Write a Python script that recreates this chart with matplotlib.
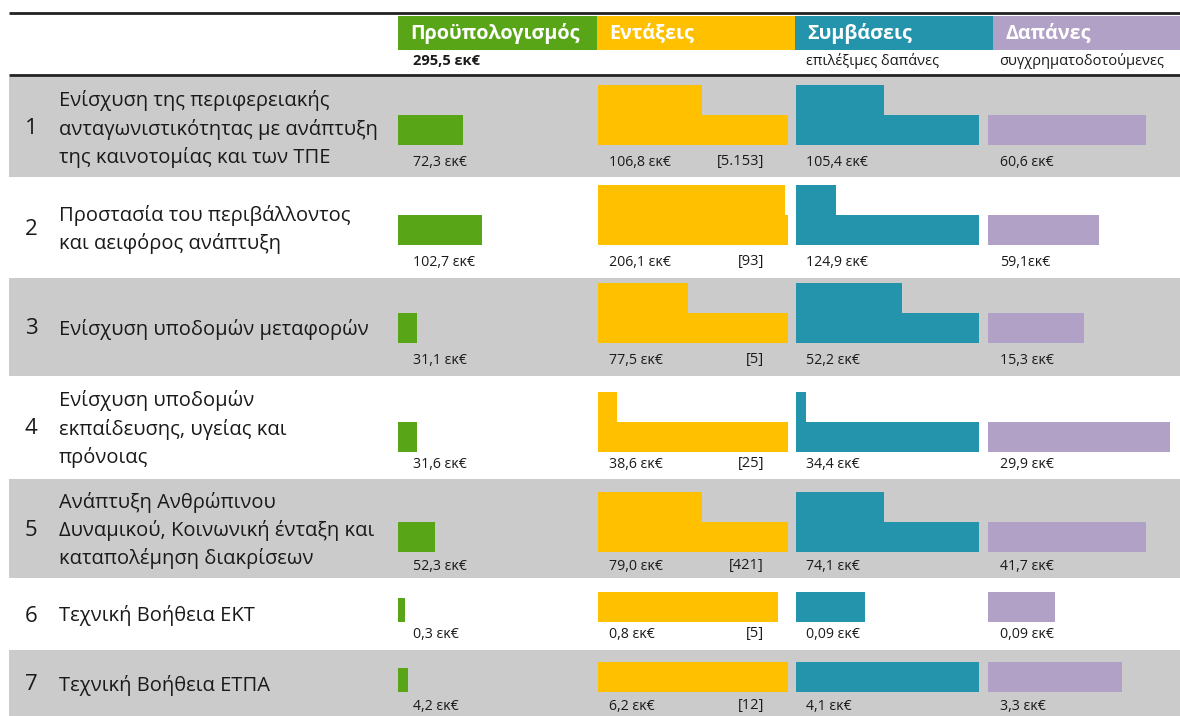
import matplotlib.pyplot as plt
from matplotlib.patches import Rectangle

plt.rcParams['font.family'] = ['Open Sans', 'DejaVu Sans']

# --- data ---
row_no = ['1', '2', '3', '4', '5', '6', '7']
axes_labels = [
    'Ενίσχυση της περιφερειακής\nανταγωνιστικότητας με ανάπτυξη\nτης καινοτομίας και των ΤΠΕ',
    'Προστασία του περιβάλλοντος\nκαι αειφόρος ανάπτυξη',
    'Ενίσχυση υποδομών μεταφορών',
    'Ενίσχυση υποδομών\nεκπαίδευσης, υγείας και\nπρόνοιας',
    'Ανάπτυξη Ανθρώπινου\nΔυναμικού, Κοινωνική ένταξη και\nκαταπολέμηση διακρίσεων',
    'Τεχνική Βοήθεια ΕΚΤ',
    'Τεχνική Βοήθεια ΕΤΠΑ',
]
headers = ['Προϋπολογισμός', 'Εντάξεις', 'Συμβάσεις', 'Δαπάνες']
subheaders = ['295,5 εκ€', '', 'επιλέξιμες δαπάνες', 'συγχρηματοδοτούμενες']

budget_txt = ['72,3 εκ€', '102,7 εκ€', '31,1 εκ€', '31,6 εκ€', '52,3 εκ€', '0,3 εκ€', '4,2 εκ€']
entax_txt = ['106,8 εκ€', '206,1 εκ€', '77,5 εκ€', '38,6 εκ€', '79,0 εκ€', '0,8 εκ€', '6,2 εκ€']
entax_cnt = ['[5.153]', '[93]', '[5]', '[25]', '[421]', '[5]', '[12]']
symv_txt = ['105,4 εκ€', '124,9 εκ€', '52,2 εκ€', '34,4 εκ€', '74,1 εκ€', '0,09 εκ€', '4,1 εκ€']
dap_txt = ['60,6 εκ€', '59,1εκ€', '15,3 εκ€', '29,9 εκ€', '41,7 εκ€', '0,09 εκ€', '3,3 εκ€']

# bar lengths as share of the column width (two-tier bars: top tier / base tier)
budget_bar = [0.347, 0.447, 0.10, 0.10, 0.195, 0.037, 0.053]
entax_top = [0.55, 0.985, 0.477, 0.10, 0.55, 0, 0]
entax_base = [1.0, 1.0, 1.0, 1.0, 1.0, 0.95, 1.0]
symv_top = [0.48, 0.22, 0.58, 0.056, 0.48, 0, 0]
symv_base = [1.0, 1.0, 1.0, 1.0, 1.0, 0.38, 1.0]
dap_bar = [0.865, 0.607, 0.525, 0.995, 0.865, 0.365, 0.73]

# --- layout (pixels) ---
GREEN, YELLOW, TEAL, PURPLE = '#58A618', '#FFC000', '#2394AC', '#B2A1C7'
ROWGREY = '#CBCBCB'
TXT = '#1a1a1a'
row_top = [77, 179, 278, 378, 479, 581, 650]
row_bot = [177, 276, 376, 476, 578, 647, 716]
bar_bot = [145, 245, 343, 452, 552, 622, 692]
lab_y = [162, 262, 360, 464, 566, 634, 706]
tier = 30
col_x = [397.5, 597.5, 795.5, 988]
col_w = [190, 190.5, 183.5, 183]
hdr_x = [398, 597, 795, 993, 1180]

fig = plt.figure(figsize=(11.8, 7.16), dpi=100)
ax = fig.add_axes([0, 0, 1, 1])
ax.set_xlim(0, 1180)
ax.set_ylim(716, 0)
ax.axis('off')

# header
ax.plot([9, 1180], [12.5, 12.5], color='#222222', lw=2, solid_capstyle='butt')
for i, (h, c) in enumerate(zip(headers, [GREEN, YELLOW, TEAL, PURPLE])):
    ax.add_patch(Rectangle((hdr_x[i], 16), hdr_x[i + 1] - hdr_x[i], 34, color=c, lw=0))
    ax.text(hdr_x[i] + 12, 33, h, color='white', fontsize=14.2, fontweight='bold', va='center')
sub_x = [413, 609, 806, 999]
for i, s in enumerate(subheaders):
    ax.text(sub_x[i], 61, s, fontsize=10.5, va='center', color=TXT,
            fontweight='bold' if i == 0 else 'normal')
ax.plot([9, 1180], [74.5, 74.5], color='#222222', lw=2, solid_capstyle='butt')

for r in range(len(row_no)):
    if r % 2 == 0:
        ax.add_patch(Rectangle((9, row_top[r]), 1171, row_bot[r] - row_top[r], color=ROWGREY, lw=0))
    yc = (row_top[r] + row_bot[r]) / 2 + 2
    ax.text(31, yc, row_no[r], fontsize=16, ha='center', va='center', color=TXT)
    ax.text(59, yc, axes_labels[r], fontsize=14.5, va='center', color=TXT, linespacing=1.46)

    base_c = bar_bot[r] - tier / 2
    top_c = bar_bot[r] - tier * 1.5
    # budget
    gh = tier if r < 5 else 24
    ax.barh(bar_bot[r] - gh / 2, budget_bar[r] * col_w[0], height=gh, left=col_x[0], color=GREEN)
    # entaxeis
    ax.barh(base_c, entax_base[r] * col_w[1], height=tier, left=col_x[1], color=YELLOW)
    if entax_top[r]:
        ax.barh(top_c, entax_top[r] * col_w[1], height=tier + 0.5, left=col_x[1], color=YELLOW)
    # symvaseis
    ax.barh(base_c, symv_base[r] * col_w[2], height=tier, left=col_x[2], color=TEAL)
    if symv_top[r]:
        ax.barh(top_c, symv_top[r] * col_w[2], height=tier + 0.5, left=col_x[2], color=TEAL)
    # dapanes
    ax.barh(base_c, dap_bar[r] * col_w[3], height=tier, left=col_x[3], color=PURPLE)

    for x, t in zip([413, 609, 806, 1000], [budget_txt[r], entax_txt[r], symv_txt[r], dap_txt[r]]):
        ax.text(x, lab_y[r], t, fontsize=10.2, va='center', color=TXT)
    ax.text(764, lab_y[r], entax_cnt[r], fontsize=10.5, va='center', ha='right', color=TXT)

fig.savefig('out.png', dpi=100)
